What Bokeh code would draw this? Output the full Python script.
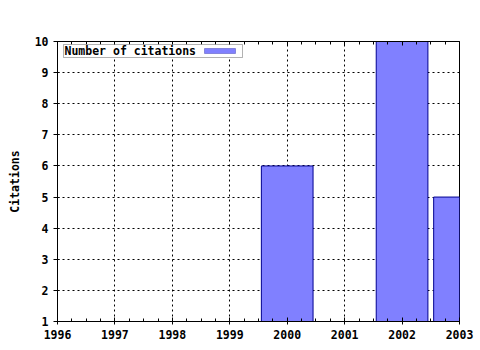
from bokeh.plotting import figure
from bokeh.models import (Range1d, LinearAxis, FixedTicker, BoxAnnotation, Label,
                          ColumnDataSource)
from bokeh.embed import file_html
from bokeh.resources import INLINE

years = [2000, 2002, 2003]
citations = [6, 10, 5]
x_ticks = [1996, 1997, 1998, 1999, 2000, 2001, 2002, 2003]
y_ticks = [1, 2, 3, 4, 5, 6, 7, 8, 9, 10]
series_name = "Number of citations"
y_title = "Citations"

FONT = "DejaVu Sans Mono"
FILL = "#8080ff"
EDGE = "#000090"
FS = "11.5px"

p = figure(width=480, height=350, output_backend="svg", toolbar_location=None,
           x_range=Range1d(1996, 2003), y_range=Range1d(1, 10),
           min_border_left=57, min_border_right=21, min_border_top=41,
           min_border_bottom=29, x_axis_location=None, y_axis_location=None)
p.outline_line_color = "black"
p.outline_line_width = 1
p.background_fill_color = "white"
p.border_fill_color = "white"

src = ColumnDataSource(dict(x=years, top=citations))
p.vbar(x="x", top="top", bottom=0, width=0.9, source=src,
       fill_color=FILL, line_color=EDGE, line_width=1)

def style(ax):
    ax.axis_line_color = "black"
    ax.major_tick_line_color = "black"
    ax.minor_tick_line_color = "black"
    ax.major_label_text_font = FONT
    ax.major_label_text_font_style = "bold"
    ax.major_label_text_font_size = FS
    ax.major_label_text_color = "black"
    ax.axis_label_text_font = FONT
    ax.axis_label_text_font_style = "bold"
    ax.axis_label_text_font_size = FS
    ax.axis_label_text_color = "black"

minor = [t + k * 0.25 for t in x_ticks[:-1] for k in (1, 2, 3)]

xa = LinearAxis(ticker=FixedTicker(ticks=x_ticks, minor_ticks=minor))
style(xa)
xa.major_tick_in = 4
xa.major_tick_out = 3
xa.minor_tick_in = 3
xa.minor_tick_out = 0
xa.major_label_standoff = 5
p.add_layout(xa, "below")

ta = LinearAxis(ticker=FixedTicker(ticks=x_ticks, minor_ticks=minor))
style(ta)
ta.major_label_overrides = {t: "" for t in x_ticks}
ta.major_tick_in = 4
ta.major_tick_out = 0
ta.minor_tick_in = 3
ta.minor_tick_out = 0
ta.major_label_standoff = 0
p.add_layout(ta, "above")

ya = LinearAxis(ticker=FixedTicker(ticks=y_ticks), axis_label=y_title)
style(ya)
ya.major_tick_in = 2
ya.major_tick_out = 4
ya.minor_tick_line_color = None
ya.major_label_standoff = 5
ya.axis_label_standoff = 10
p.add_layout(ya, "left")

p.xgrid.ticker = FixedTicker(ticks=x_ticks)
p.ygrid.ticker = FixedTicker(ticks=y_ticks)
for g in (p.xgrid, p.ygrid):
    g.grid_line_color = "black"
    g.grid_line_dash = "2 3"
    g.grid_line_width = 1

# legend drawn in screen space (text left, swatch right)
p.add_layout(BoxAnnotation(left=6, right=185, top=277, bottom=264,
                           left_units="screen", right_units="screen",
                           top_units="screen", bottom_units="screen",
                           fill_color="white", fill_alpha=1,
                           line_color="black", line_width=1))
p.add_layout(BoxAnnotation(left=147, right=178, top=273, bottom=268,
                           left_units="screen", right_units="screen",
                           top_units="screen", bottom_units="screen",
                           fill_color=FILL, fill_alpha=1,
                           line_color=EDGE, line_width=1))
p.add_layout(Label(x=7, y=270.5, x_units="screen", y_units="screen",
                   text=series_name, text_font=FONT, text_font_style="bold",
                   text_font_size=FS, text_color="black",
                   text_baseline="middle", text_align="left"))

open("out.html", "w").write(file_html(p, INLINE))
